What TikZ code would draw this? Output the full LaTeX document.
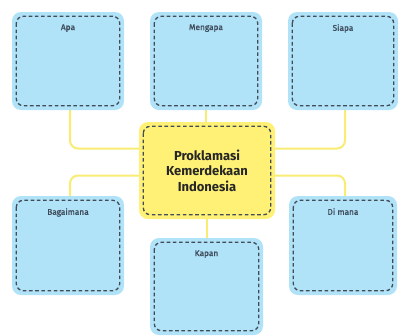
\documentclass[tikz,border=0pt]{standalone}
\usepackage{fontspec}
\setmainfont{Fira Sans}
\newfontfamily\lblfont[FakeBold=1.2]{Fira Sans}
\usetikzlibrary{backgrounds}
\definecolor{boxblue}{HTML}{B0E2F8}
\definecolor{boxyellow}{HTML}{FFF176}
\definecolor{connyellow}{HTML}{F8EC72}
\definecolor{dashgray}{HTML}{414C58}
\definecolor{labelgray}{HTML}{3E4C5A}
\begin{document}
\begin{tikzpicture}[x=1pt,y=-1pt,
  qbox/.style={fill=boxblue,rounded corners=9pt,inner sep=0pt},
  cbox/.style={fill=boxyellow,rounded corners=9pt,inner sep=0pt},
  dashbox/.style={draw=dashgray,line width=1.3pt,dash pattern=on 3.6pt off 2.6pt,rounded corners=7pt},
  qlabel/.style={font=\lblfont\fontsize{8.3}{10}\selectfont,text=labelgray,anchor=north},
  conn/.style={draw=connyellow,line width=2pt,rounded corners=8pt}]
\useasboundingbox (0,0) rectangle (398,335);
\node[qbox,minimum width=112pt,minimum height=98pt] (apa) at (68,61) {};
\node[qbox,minimum width=112pt,minimum height=98pt] (meng) at (206,61) {};
\node[qbox,minimum width=110pt,minimum height=98pt] (siapa) at (343,61) {};
\node[qbox,minimum width=112pt,minimum height=99pt] (bag) at (68,245.5) {};
\node[qbox,minimum width=108pt,minimum height=99pt] (dimana) at (343,245.5) {};
\node[qbox,minimum width=113pt,minimum height=97pt] (kapan) at (206.5,286.5) {};
\node[cbox,minimum width=136pt,minimum height=97pt] (pk) at (207,170.5) {};
\begin{scope}[on background layer]
  \draw[conn] ([xshift=2pt]apa.south) |- ([yshift=22pt]pk.west);
  \draw[conn] ([xshift=2pt]siapa.south) |- ([yshift=22pt]pk.east);
  \draw[conn] ([yshift=-5pt]pk.west) -| ([xshift=2pt]bag.north);
  \draw[conn] ([yshift=-5pt]pk.east) -| ([xshift=2pt]dimana.north);
  \draw[conn] (meng.south) -- (meng.south |- pk.north);
  \draw[conn] (kapan.north) -- (kapan.north |- pk.south);
\end{scope}
\foreach \n in {apa,meng,siapa,bag,dimana,kapan,pk}{
  \draw[dashbox] ([xshift=4.5pt,yshift=-4.5pt]\n.north west) rectangle ([xshift=-4.5pt,yshift=4.5pt]\n.south east);
}
\node[qlabel] at ([yshift=-9pt]apa.north) {Apa};
\node[qlabel] at ([yshift=-9pt]meng.north) {Mengapa};
\node[qlabel] at ([yshift=-9pt]siapa.north) {Siapa};
\node[qlabel] at ([yshift=-9pt]bag.north) {Bagaimana};
\node[qlabel] at ([yshift=-9pt]dimana.north) {Di mana};
\node[qlabel] at ([yshift=-9pt]kapan.north) {Kapan};
\node[font=\fontsize{13}{15.5}\selectfont\bfseries,align=center,text=black!85] at (pk.center) {Proklamasi\\Kemerdekaan\\Indonesia};
\end{tikzpicture}
\end{document}
